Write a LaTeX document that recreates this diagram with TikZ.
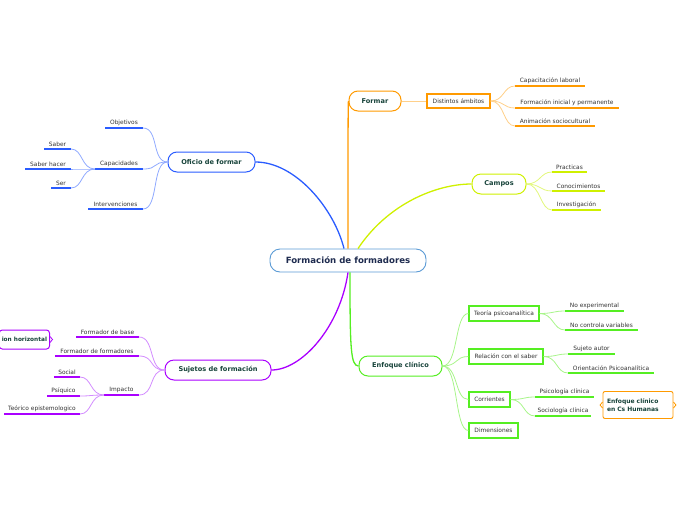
\documentclass[tikz,border=0pt]{standalone}
\usepackage{fontspec}
\setmainfont{DejaVu Sans}
\definecolor{cblue}{HTML}{2A5CFF}
\definecolor{cbluel}{HTML}{8FA9FF}
\definecolor{corange}{HTML}{FF9A00}
\definecolor{corangel}{HTML}{FFD08A}
\definecolor{cyel}{HTML}{CFF000}
\definecolor{cyell}{HTML}{E2F77A}
\definecolor{cpurp}{HTML}{AA00FF}
\definecolor{cpurpl}{HTML}{D38CFF}
\definecolor{cgreen}{HTML}{55EE22}
\definecolor{cgreenl}{HTML}{A8F58A}
\definecolor{ccenter}{HTML}{5B9BD5}
\definecolor{ctitle}{HTML}{17433A}
\definecolor{ccentertext}{HTML}{1E2B4F}
\definecolor{ctext}{HTML}{333333}
\tikzset{
  mainnode/.style={draw, rounded corners=9pt, line width=1pt, fill=white, text=ctitle,
    font=\bfseries\fontsize{6.6}{7.5}\selectfont, minimum height=20pt, inner sep=0pt},
  subbox/.style={draw, line width=1.2pt, fill=white, text=ctext,
    font=\fontsize{5.9}{6.5}\selectfont, minimum height=15pt, inner sep=0pt},
  leaftext/.style={text=ctext, font=\fontsize{5.9}{6.5}\selectfont, inner sep=0.5pt},
  branch/.style={line width=1.3pt},
  twig/.style={line width=0.8pt},
  uline/.style={line width=1.3pt},
}
\newcommand\leafitem[6]{%
  \coordinate (#1-a) at (#2,#4);
  \coordinate (#1-b) at (#3,#4);
  \draw[uline,#6] (#1-a) -- (#1-b);
  \node[leaftext, anchor=south] (#1) at ({(#2+#3)/2},{#4-1.5}) {#5};}
\begin{document}
\begin{tikzpicture}[x=1pt,y=-1pt]
\useasboundingbox (0,0) rectangle (696,520);

% central node
\node[draw=ccenter, line width=0.9pt, rounded corners=10pt, fill=white, text=ccentertext,
  font=\bfseries\fontsize{8.6}{9}\selectfont, minimum width=156pt, minimum height=23pt,
  inner sep=0pt] (center) at (348,260.5) {Formación de formadores};

% main nodes
\node[mainnode, draw=cblue, minimum width=87pt] (oficio) at (211.5,162) {Oficio de formar};
\node[mainnode, draw=corange, minimum width=52pt] (formar) at (375,101) {Formar};
\node[mainnode, draw=cyel, minimum width=54pt] (campos) at (499,184) {Campos};
\node[mainnode, draw=cpurp, minimum width=106pt] (sujetos) at (218,370) {Sujetos de formación};
\node[mainnode, draw=cgreen, minimum width=83pt] (enfoque) at (400.5,366) {Enfoque clínico};

% main branches
\draw[branch, cblue] ([xshift=-4pt]center.north) .. controls +(-10,-40) and +(40,0) .. (oficio.east);
\draw[branch, corange] (center.north) .. controls (348,150) and (348,101) .. (formar.west);
\draw[branch, cyel] ([xshift=10pt]center.north) .. controls +(30,-45) and +(-35,0) .. (campos.west);
\draw[branch, cpurp] (center.south) .. controls +(-8,55) and +(30,0) .. (sujetos.east);
\draw[branch, cgreen] ([xshift=2pt]center.south) .. controls +(0,75) and +(-8,0) .. (enfoque.west);

% Oficio de formar
\leafitem{obj}{105}{143}{128}{Objetivos}{cblue}
\leafitem{cap}{95}{143}{169}{Capacidades}{cblue}
\leafitem{inter}{88}{143}{209}{Intervenciones}{cblue}
\leafitem{saber}{44}{71}{149}{Saber}{cblue}
\leafitem{saberh}{25}{71}{169}{Saber hacer}{cblue}
\leafitem{ser}{51}{71}{188}{Ser}{cblue}
\foreach \t in {obj,cap,inter}
  \draw[twig, cbluel] (oficio.west) .. controls +(-16,0) and +(16,0) .. (\t-b);
\foreach \t in {saber,saberh,ser}
  \draw[twig, cbluel] (cap-a) .. controls +(-14,0) and +(12,0) .. (\t-b);

% Formar
\node[subbox, draw=corange, minimum width=63pt, minimum height=14pt] (ambitos) at (458.5,101) {Distintos ámbitos};
\draw[twig, corangel] (formar.east) -- (ambitos.west);
\leafitem{capl}{515}{585}{86}{Capacitación laboral}{corange}
\leafitem{fip}{515}{619}{108}{Formación inicial y permanente}{corange}
\leafitem{anim}{515}{595}{126}{Animación sociocultural}{corange}
\foreach \t in {capl,fip,anim}
  \draw[twig, corangel] (ambitos.east) .. controls +(14,0) and +(-12,0) .. (\t-a);

% Campos
\leafitem{prac}{552}{587}{172}{Practicas}{cyel}
\leafitem{conoc}{552}{605}{191}{Conocimientos}{cyel}
\leafitem{invest}{552}{601}{210}{Investigación}{cyel}
\foreach \t in {prac,conoc,invest}
  \draw[twig, cyell] (campos.east) .. controls +(14,0) and +(-12,0) .. (\t-a);

% Sujetos de formacion
\leafitem{fbase}{76}{139}{337}{Formador de base}{cpurp}
\leafitem{fform}{55}{139}{356}{Formador de formadores}{cpurp}
\leafitem{impacto}{104}{139}{395}{Impacto}{cpurp}
\leafitem{social}{54}{80}{377}{Social}{cpurp}
\leafitem{psiq}{47}{80}{396}{Psíquico}{cpurp}
\leafitem{teor}{4}{80}{414}{Teórico epistemologico}{cpurp}
\foreach \t in {fbase,fform,impacto}
  \draw[twig, cpurpl] (sujetos.west) .. controls +(-16,0) and +(16,0) .. (\t-b);
\foreach \t in {social,psiq,teor}
  \draw[twig, cpurpl] (impacto-a) .. controls +(-14,0) and +(12,0) .. (\t-b);
\node[draw=cpurp, line width=1pt, rounded corners=3pt, fill=white, text=ctitle,
  font=\bfseries\fontsize{5.8}{7.5}\selectfont, minimum height=19pt, inner xsep=2.5pt,
  anchor=east] (horiz) at (50,339.5) {ion horizontal};
\draw[cpurp, line width=0.8pt] ([yshift=-3pt]horiz.east) -- ([xshift=2.5pt]horiz.east) -- ([yshift=3pt]horiz.east);

% Enfoque clinico
\node[subbox, draw=cgreen, minimum width=70pt] (teoria) at (504,313.5) {Teoría psicoanalítica};
\node[subbox, draw=cgreen, minimum width=74pt] (relacion) at (506,356.5) {Relación con el saber};
\node[subbox, draw=cgreen, minimum width=41pt] (corrientes) at (489.5,399.5) {Corrientes};
\node[subbox, draw=cgreen, minimum width=49pt] (dimensiones) at (493.5,430.5) {Dimensiones};
\foreach \t in {teoria,relacion,corrientes,dimensiones}
  \draw[twig, cgreenl] (enfoque.east) .. controls +(16,0) and +(-14,0) .. (\t.west);
\leafitem{noexp}{565}{624}{311}{No experimental}{cgreen}
\leafitem{nocont}{565}{638}{330}{No controla variables}{cgreen}
\leafitem{sujaut}{568}{615}{354}{Sujeto autor}{cgreen}
\leafitem{orient}{568}{654}{373}{Orientación Psicoanalítica}{cgreen}
\leafitem{psic}{535}{594}{397}{Psicología clínica}{cgreen}
\leafitem{socio}{535}{591}{416}{Sociología clínica}{cgreen}
\foreach \t in {noexp,nocont}
  \draw[twig, cgreenl] (teoria.east) .. controls +(14,0) and +(-12,0) .. (\t-a);
\foreach \t in {sujaut,orient}
  \draw[twig, cgreenl] (relacion.east) .. controls +(14,0) and +(-12,0) .. (\t-a);
\foreach \t in {psic,socio}
  \draw[twig, cgreenl] (corrientes.east) .. controls +(14,0) and +(-12,0) .. (\t-a);
\node[draw=corange, line width=0.9pt, rounded corners=2pt, fill=white, text=ctitle,
  font=\bfseries\fontsize{6}{7.5}\selectfont, minimum width=70pt, minimum height=27pt,
  align=left, text width=62pt, inner xsep=4pt] (cshum) at (638,405) {Enfoque clínico\\en Cs Humanas};
\draw[corange, line width=0.8pt] ([yshift=-3pt]cshum.west) -- ([xshift=-2.5pt]cshum.west) -- ([yshift=3pt]cshum.west);
\draw[corange, line width=0.8pt] ([yshift=-3pt]cshum.east) -- ([xshift=2.5pt]cshum.east) -- ([yshift=3pt]cshum.east);
\end{tikzpicture}
\end{document}
